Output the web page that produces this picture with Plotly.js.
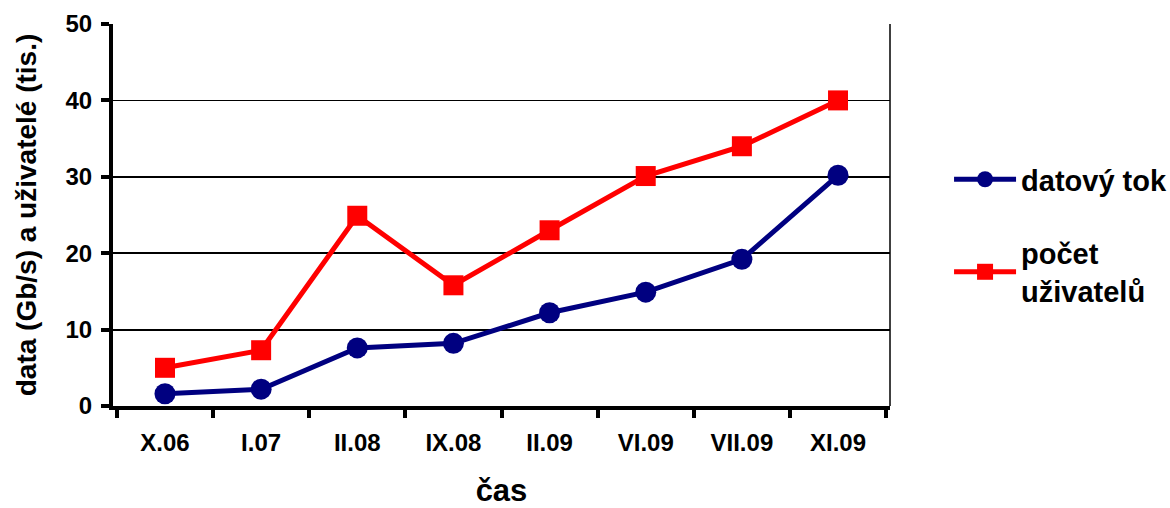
<!DOCTYPE html>
<html><head><meta charset="utf-8">
<script src="https://cdn.plot.ly/plotly-3.0.1.min.js"></script>
<style>html,body{margin:0;padding:0;background:#fff}#chart{width:1170px;height:508px}</style>
</head><body><div id="chart"></div>
<script>
const categories = ["X.06","I.07","II.08","IX.08","II.09","VI.09","VII.09","XI.09"];
const datovyTok = [1.6, 2.2, 7.6, 8.2, 12.2, 14.9, 19.2, 30.2];
const pocetUzivatelu = [5.0, 7.3, 24.9, 15.8, 23.0, 30.1, 34.0, 40.0];
const yTicks = [0, 10, 20, 30, 40, 50];

const font = {family: "Liberation Sans, Arial, sans-serif", color: "#000", weight: "bold"};

const traces = [
  {x: categories, y: datovyTok, name: "datový tok", legendgroup: "a", type: "scatter", mode: "lines+markers",
   line: {color: "#000080", width: 5}, marker: {symbol: "circle", size: 21, color: "#000080"}},
  {x: categories, y: pocetUzivatelu, name: "počet<br>uživatelů", legendgroup: "b", type: "scatter", mode: "lines+markers",
   line: {color: "#ff0000", width: 5}, marker: {symbol: "square", size: 20, color: "#ff0000"}}
];

const layout = {
  width: 1170, height: 508,
  margin: {l: 113, r: 280, t: 24, b: 102, autoexpand: false},
  paper_bgcolor: "#fff", plot_bgcolor: "#fff",
  font: Object.assign({}, font, {size: 24}),
  showlegend: true,
  legend: {x: 1.076, y: 0.66, xanchor: "left", yanchor: "top", font: Object.assign({}, font, {size: 29}),
           itemwidth: 62, tracegroupgap: 33, bgcolor: "rgba(0,0,0,0)", traceorder: "grouped"},
  xaxis: {
    type: "category", tickson: "boundaries", ticks: "outside", ticklen: 8, tickwidth: 4, tickcolor: "#000",
    showline: true, linecolor: "#000", linewidth: 4, showgrid: false, zeroline: false,
    tickfont: Object.assign({}, font, {size: 24}), ticklabelstandoff: 12,
    title: {text: "čas", font: Object.assign({}, font, {size: 31}), standoff: 28},
    mirror: false
  },
  yaxis: {
    range: [0, 50], tickvals: yTicks, ticks: "outside", ticklen: 8, tickwidth: 4, tickcolor: "#000",
    showline: true, linecolor: "#000", linewidth: 4, showgrid: true, gridcolor: "#000", gridwidth: 1.8,
    zeroline: false, tickfont: Object.assign({}, font, {size: 24}), ticklabelstandoff: 4,
    title: {text: "data (Gb/s) a uživatelé (tis.)", font: Object.assign({}, font, {size: 28}), standoff: 22}
  },
  shapes: [
    {type: "line", xref: "paper", yref: "paper", x0: 1, x1: 1, y0: 0, y1: 1, line: {color: "#000", width: 1.5}}
  ]
};

Plotly.newPlot("chart", traces, layout, {displayModeBar: false, staticPlot: true});
</script>
</body></html>
